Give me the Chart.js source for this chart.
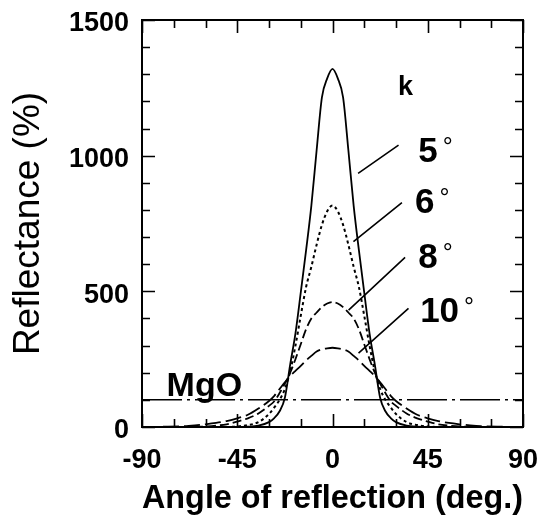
<!DOCTYPE html>
<html>
<head>
<meta charset="utf-8">
<script src="https://cdn.jsdelivr.net/npm/chart.js@4.4.1/dist/chart.umd.min.js"></script>
<style>
  html, body { margin: 0; padding: 0; background: #fff; }
  canvas { display: block; }
</style>
</head>
<body>
<canvas id="reflChart" width="543" height="517"></canvas>
<script>
// angle of reflection (deg.)
const angles = [-90, -80, -70, -65, -60, -55, -50, -45, -40, -35, -30, -27.5, -25, -22.5, -20, -17.5, -15, -12.5, -10, -7.5, -5, -2.5,
    0, 2.5, 5, 7.5, 10, 12.5, 15, 17.5, 20, 22.5, 25, 27.5, 30, 35, 40, 45, 50, 55, 60, 65, 70, 80, 90];

// reflectance (%) for each k
const refl5 = [0, 0, 0, 0, 0, 0, 0, 0, 1, 5, 18, 33, 58, 108, 230, 345, 495, 650, 815, 1020, 1215, 1285,
    1320, 1285, 1215, 1020, 815, 650, 495, 345, 230, 108, 58, 33, 18, 5, 1, 0, 0, 0, 0, 0, 0, 0, 0];
const refl6 = [0, 0, 0, 0, 0, 0, 0, 2, 7, 18, 48, 72, 100, 140, 205, 300, 410, 515, 590, 672, 745, 795,
    816, 795, 745, 672, 590, 515, 410, 300, 205, 140, 100, 72, 48, 18, 7, 2, 0, 0, 0, 0, 0, 0, 0];
const refl8 = [0, 0, 0, 1, 2, 5, 10, 20, 32, 50, 78, 95, 125, 160, 200, 250, 305, 360, 400, 422, 442, 455,
    460, 455, 442, 422, 400, 360, 305, 250, 200, 160, 125, 95, 78, 50, 32, 20, 10, 5, 2, 1, 0, 0, 0];
const refl10 = [0, 1, 3, 6, 10, 15, 22, 32, 45, 68, 96, 115, 140, 165, 188, 207, 225, 245, 262, 278, 286, 290,
    292, 290, 286, 278, 262, 245, 225, 207, 188, 165, 140, 115, 96, 68, 45, 32, 22, 15, 10, 6, 3, 1, 0];

const mgoLevel = 100;
const seriesNames = ['5', '6', '8', '10'];

const xTickLabels = [-90, -45, 0, 45, 90];
const yTickLabels = [0, 500, 1000, 1500];

// where the k labels and their leader lines sit (in axis units)
const labelSpots = [
    { x: 40.5, y: 977 },
    { x: 39.0, y: 789 },
    { x: 40.5, y: 586 },
    { x: 41.4, y: 388 }
];
const leaders = [
    [12.1, 935, 31.2, 1039],
    [9.9, 683, 32.8, 827],
    [7.6, 431, 34.3, 625],
    [12.3, 272, 35.9, 437]
];
const kSpot = { x: 34.5, y: 1224 };
const mgoSpot = { x: -78.4, y: 114 };

const FONT = "'Liberation Sans', Arial, Helvetica, sans-serif";
Chart.defaults.font.family = FONT;
Chart.defaults.color = '#000';

function pts(vals) {
    return angles.map((a, i) => ({ x: a, y: vals[i] }));
}

function curve(label, vals, dash, width) {
    return {
        label: label,
        data: pts(vals),
        borderColor: '#000',
        borderWidth: width,
        borderDash: dash,
        pointRadius: 0,
        fill: false,
        cubicInterpolationMode: 'monotone'
    };
}

// frame with inward ticks on all four sides
const frameTicks = {
    id: 'frameTicks',
    afterDraw(chart) {
        const { ctx, chartArea: a, scales: { x, y } } = chart;
        ctx.save();
        ctx.strokeStyle = '#000';
        ctx.lineWidth = 2;
        ctx.strokeRect(a.left, a.top, a.right - a.left, a.bottom - a.top);
        ctx.lineWidth = 1.6;
        ctx.beginPath();
        x.ticks.forEach(t => {
            const px = Math.round(x.getPixelForValue(t.value)) + 0.5;
            const len = xTickLabels.includes(t.value) ? 13 : 8;
            ctx.moveTo(px, a.bottom); ctx.lineTo(px, a.bottom - len);
            ctx.moveTo(px, a.top); ctx.lineTo(px, a.top + len);
        });
        y.ticks.forEach(t => {
            const py = Math.round(y.getPixelForValue(t.value)) + 0.5;
            const len = yTickLabels.includes(t.value) ? 13 : 8;
            ctx.moveTo(a.left, py); ctx.lineTo(a.left + len, py);
            ctx.moveTo(a.right, py); ctx.lineTo(a.right - len, py);
        });
        ctx.stroke();
        ctx.restore();
    }
};

// k labels, leader lines and the MgO tag
const notes = {
    id: 'notes',
    afterDraw(chart) {
        const { ctx, scales: { x, y } } = chart;
        ctx.save();
        ctx.strokeStyle = '#000';
        ctx.fillStyle = '#000';
        ctx.lineWidth = 1.6;
        ctx.beginPath();
        leaders.forEach(l => {
            ctx.moveTo(x.getPixelForValue(l[0]), y.getPixelForValue(l[1]));
            ctx.lineTo(x.getPixelForValue(l[2]), y.getPixelForValue(l[3]));
        });
        ctx.stroke();

        ctx.textAlign = 'left';
        ctx.textBaseline = 'alphabetic';
        seriesNames.forEach((name, i) => {
            const px = x.getPixelForValue(labelSpots[i].x);
            const py = y.getPixelForValue(labelSpots[i].y);
            ctx.font = 'bold 35px ' + FONT;
            ctx.fillText(name, px, py);
            const w = ctx.measureText(name).width;
            ctx.font = 'normal 25px ' + FONT;
            ctx.fillText('\u00b0', px + w + 5, py - 7);
        });

        ctx.font = 'bold 27px ' + FONT;
        ctx.textAlign = 'center';
        ctx.fillText('k', x.getPixelForValue(kSpot.x), y.getPixelForValue(kSpot.y));

        ctx.font = 'bold 34px ' + FONT;
        ctx.textAlign = 'left';
        ctx.fillText('MgO', x.getPixelForValue(mgoSpot.x), y.getPixelForValue(mgoSpot.y));
        ctx.restore();
    }
};

new Chart(document.getElementById('reflChart'), {
    type: 'line',
    data: {
        datasets: [
            curve('5', refl5, [], 1.8),
            curve('6', refl6, [3, 3], 2),
            curve('8', refl8, [9, 4], 1.8),
            curve('10', refl10, [16, 5], 1.8),
            {
                label: 'MgO',
                data: [{ x: -90, y: mgoLevel }, { x: 90, y: mgoLevel }],
                borderColor: '#000',
                borderWidth: 1.5,
                borderDash: [40, 5, 3, 5],
                pointRadius: 0,
                fill: false
            }
        ]
    },
    options: {
        responsive: false,
        animation: false,
        devicePixelRatio: 1,
        layout: { padding: { top: 20, right: 20, left: 0, bottom: 0 } },
        plugins: {
            legend: { display: false },
            tooltip: { enabled: false }
        },
        scales: {
            x: {
                type: 'linear',
                min: -90,
                max: 90,
                grid: { display: false, drawTicks: false },
                border: { display: false },
                ticks: {
                    stepSize: 15,
                    autoSkip: false,
                    maxRotation: 0,
                    padding: 17,
                    font: { size: 27, weight: 'bold' },
                    callback: v => xTickLabels.includes(v) ? String(v) : ''
                },
                title: {
                    display: true,
                    text: 'Angle of reflection (deg.)',
                    font: { size: 34, weight: 'bold', lineHeight: 1 },
                    padding: { top: 0, bottom: 1 }
                },
                afterFit(scale) {
                    scale.height = 90;
                    scale.paddingLeft = 0;
                    scale.paddingRight = 0;
                }
            },
            y: {
                type: 'linear',
                min: 0,
                max: 1500,
                grid: { display: false, drawTicks: false },
                border: { display: false },
                ticks: {
                    stepSize: 100,
                    autoSkip: false,
                    padding: 13,
                    labelOffset: 4,
                    font: { size: 27, weight: 'bold' },
                    callback: v => yTickLabels.includes(v) ? String(v) : ''
                },
                title: {
                    display: true,
                    text: 'Reflectance (%)',
                    font: { size: 37, weight: 'normal', lineHeight: 1 },
                    padding: { top: 10, bottom: 0 }
                },
                afterFit(scale) {
                    scale.width = 142;
                    scale.paddingTop = 0;
                    scale.paddingBottom = 0;
                }
            }
        }
    },
    plugins: [frameTicks, notes]
});
</script>
</body>
</html>
